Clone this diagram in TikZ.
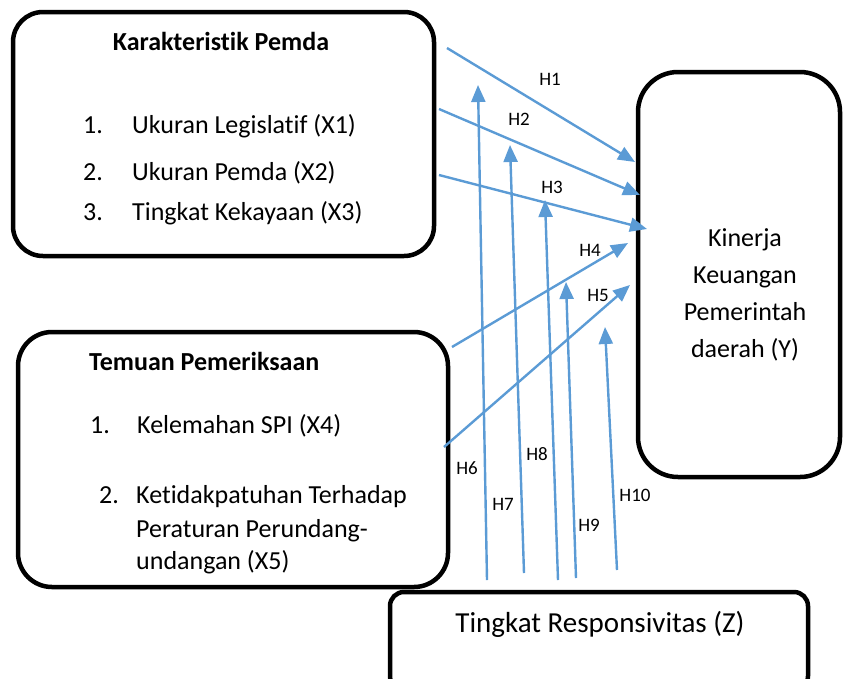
\documentclass[tikz,border=0pt]{standalone}
\usepackage{fontspec}
\setmainfont[Ligatures=NoCommon]{Carlito}
\usetikzlibrary{arrows.meta}
\definecolor{hblue}{HTML}{5B9BD5}
\tikzset{
  varbox/.style = {draw=black, line width=4.5pt, inner sep=0pt},
  vtext/.style = {inner sep=0pt, font=\fontsize{26}{34}\selectfont},
  vtitle/.style = {inner sep=0pt, font=\fontsize{26}{34}\selectfont\bfseries},
  harrow/.style = {hblue, line width=2.4pt, -{Triangle[length=17pt,width=14pt]}},
  hlabel/.style = {inner sep=0pt, font=\fontsize{19}{22}\selectfont}
}

\begin{document}
\begin{tikzpicture}[x=1pt, y=-1pt]
\path[use as bounding box, clip] (0,0) rectangle (843,678);

% the four variable boxes
\node [varbox, rounded corners=30pt, minimum width=421pt, minimum height=244pt] (pemda) at (223.5,134) {};
\node [varbox, rounded corners=34pt, minimum width=430pt, minimum height=255pt] (temuan) at (233,459.5) {};
\node [varbox, rounded corners=40pt, minimum width=202pt, minimum height=405pt] (kinerja) at (739,274.5) {};
\node [varbox, rounded corners=14pt, minimum width=418pt, minimum height=98pt] (respon) at (599,641) {};

% texts of Karakteristik Pemda
\node [vtitle, anchor=base] (pemdatitle) at (221,50) {Karakteristik Pemda};
\node [vtext, anchor=base west] (num1) at (83,133) {1.};
\node [vtext, anchor=base west] (xone) at (132,133) {Ukuran Legislatif (X1)};
\node [vtext, anchor=base west] (num2) at (83,180) {2.};
\node [vtext, anchor=base west] (xtwo) at (132,180) {Ukuran Pemda (X2)};
\node [vtext, anchor=base west] (num3) at (83,220) {3.};
\node [vtext, anchor=base west] (xthree) at (132,220) {Tingkat Kekayaan (X3)};

% texts of Temuan Pemeriksaan
\node [vtitle, anchor=base west] (temuantitle) at (89,370) {Temuan Pemeriksaan};
\node [vtext, anchor=base west] (num4) at (90,433) {1.};
\node [vtext, anchor=base west] (xfour) at (137,433) {Kelemahan SPI (X4)};
\node [vtext, anchor=base west] (num5) at (99,503) {2.};
\node [vtext, anchor=base west] (xfive) at (136,503) {Ketidakpatuhan Terhadap};
\node [vtext, anchor=base west] (xfiveb) at (136,537) {Peraturan Perundang-};
\node [vtext, anchor=base west] (xfivec) at (136,569) {undangan (X5)};

% texts of Kinerja and Responsivitas
\node [vtext, align=center, font=\fontsize{26}{37}\selectfont] (ytext) at (745,295) {Kinerja\\Keuangan\\Pemerintah\\daerah (Y)};
\node [vtext, anchor=base, font=\fontsize{29}{34}\selectfont] (ztext) at (600,632) {Tingkat Responsivitas (Z)};

% arrow ends
\coordinate (h1a) at (447,48);  \coordinate (h1b) at (635,162);
\coordinate (h2a) at (439,109); \coordinate (h2b) at (640,195);
\coordinate (h3a) at (439,175); \coordinate (h3b) at (647,229);
\coordinate (h4a) at (452,347); \coordinate (h4b) at (628,243);
\coordinate (h5a) at (444,447); \coordinate (h5b) at (630,285);
\coordinate (h6a) at (487,580); \coordinate (h6b) at (478,85);
\coordinate (h7a) at (524,573); \coordinate (h7b) at (510,145);
\coordinate (h8a) at (558,580); \coordinate (h8b) at (545,200);
\coordinate (h9a) at (576,578); \coordinate (h9b) at (566,282);
\coordinate (h10a) at (617,570); \coordinate (h10b) at (605,327);

% hypotheses
\draw [harrow] (h1a) -- (h1b);
\draw [harrow] (h2a) -- (h2b);
\draw [harrow] (h3a) -- (h3b);
\draw [harrow] (h4a) -- (h4b);
\draw [harrow] (h5a) -- (h5b);
\draw [harrow] (h6a) -- (h6b);
\draw [harrow] (h7a) -- (h7b);
\draw [harrow] (h8a) -- (h8b);
\draw [harrow] (h9a) -- (h9b);
\draw [harrow] (h10a) -- (h10b);

\node [hlabel] (lh1) at (550,79) {H1};
\node [hlabel] (lh2) at (519,119) {H2};
\node [hlabel] (lh3) at (552,187) {H3};
\node [hlabel] (lh4) at (590,250) {H4};
\node [hlabel] (lh5) at (598,295) {H5};
\node [hlabel] (lh6) at (467,468) {H6};
\node [hlabel] (lh7) at (503,504) {H7};
\node [hlabel] (lh8) at (537,454) {H8};
\node [hlabel] (lh9) at (589,525) {H9};
\node [hlabel] (lh10) at (635,495) {H10};

\end{tikzpicture}
\end{document}
